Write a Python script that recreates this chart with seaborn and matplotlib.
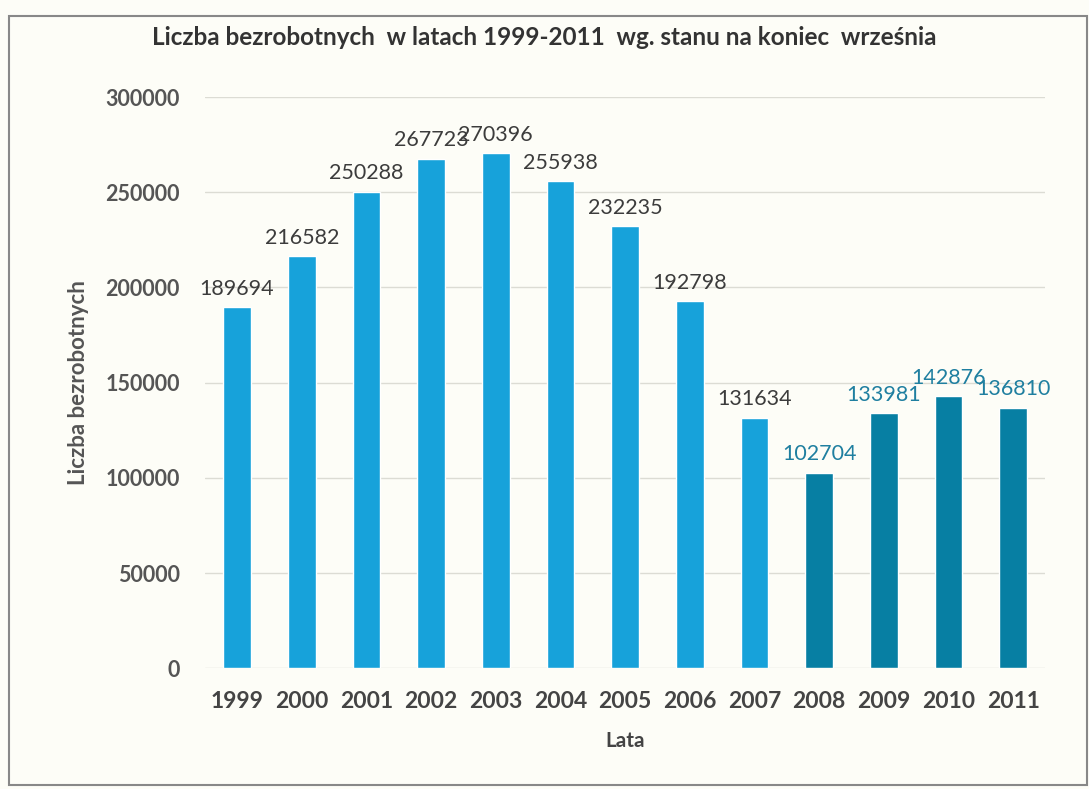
import pandas as pd
import seaborn as sns
import matplotlib.pyplot as plt

years = ["1999", "2000", "2001", "2002", "2003", "2004", "2005",
         "2006", "2007", "2008", "2009", "2010", "2011"]
unemployed = [189694, 216582, 250288, 267723, 270396, 255938, 232235,
              192798, 131634, 102704, 133981, 142876, 136810]
bar_colors = ["#17a2da"] * 9 + ["#077fa3"] * 4
label_colors = ["#3c3c3c"] * 9 + ["#1f7fa0"] * 4

df = pd.DataFrame({"Lata": years, "Liczba": unemployed})

sns.set_theme(style="whitegrid")
plt.rcParams["font.family"] = ["Lato", "DejaVu Sans"]

fig = plt.figure(figsize=(10.89, 7.89), dpi=100, facecolor="#fdfdf7")
ax = fig.add_axes([0.188, 0.153, 0.772, 0.724])
ax.set_facecolor("#fdfdf7")

sns.barplot(data=df, x="Lata", y="Liczba", hue="Lata", palette=bar_colors,
            legend=False, width=0.43, saturation=1, ax=ax)

# data labels above the bars
for p, val, col in zip(ax.patches, unemployed, label_colors):
    ax.annotate(f"{val}", (p.get_x() + p.get_width() / 2, p.get_height()),
                xytext=(0, 6), textcoords="offset points",
                ha="center", va="bottom", fontsize=15.5, color=col)

ax.set_ylim(0, 300000)
ax.set_yticks(range(0, 300001, 50000))
ax.grid(axis="y", color="#dcdcd4", linewidth=1)
ax.grid(axis="x", visible=False)
for s in ax.spines.values():
    s.set_visible(False)

ax.tick_params(axis="y", labelsize=15.5, colors="#555555", pad=12)
ax.tick_params(axis="x", labelsize=16.5, colors="#444444", pad=10)
for lbl in ax.get_xticklabels() + ax.get_yticklabels():
    lbl.set_fontweight("bold")

ax.set_xlabel("Lata", fontsize=15, fontweight="bold", color="#444444", labelpad=14)
ax.set_ylabel("Liczba bezrobotnych", fontsize=16, fontweight="bold", color="#555555", labelpad=12)

fig.text(0.5, 0.952, "Liczba bezrobotnych  w latach 1999-2011  wg. stanu na koniec  września",
         ha="center", va="center", fontsize=17.5, fontweight="bold", color="#333333")

# frame around the chart
fig.patches.append(plt.Rectangle((0.008, 0.005), 0.99, 0.975, transform=fig.transFigure,
                                 fill=False, edgecolor="#888888", linewidth=1.5))

plt.savefig("out.png", dpi=100, facecolor=fig.get_facecolor())
